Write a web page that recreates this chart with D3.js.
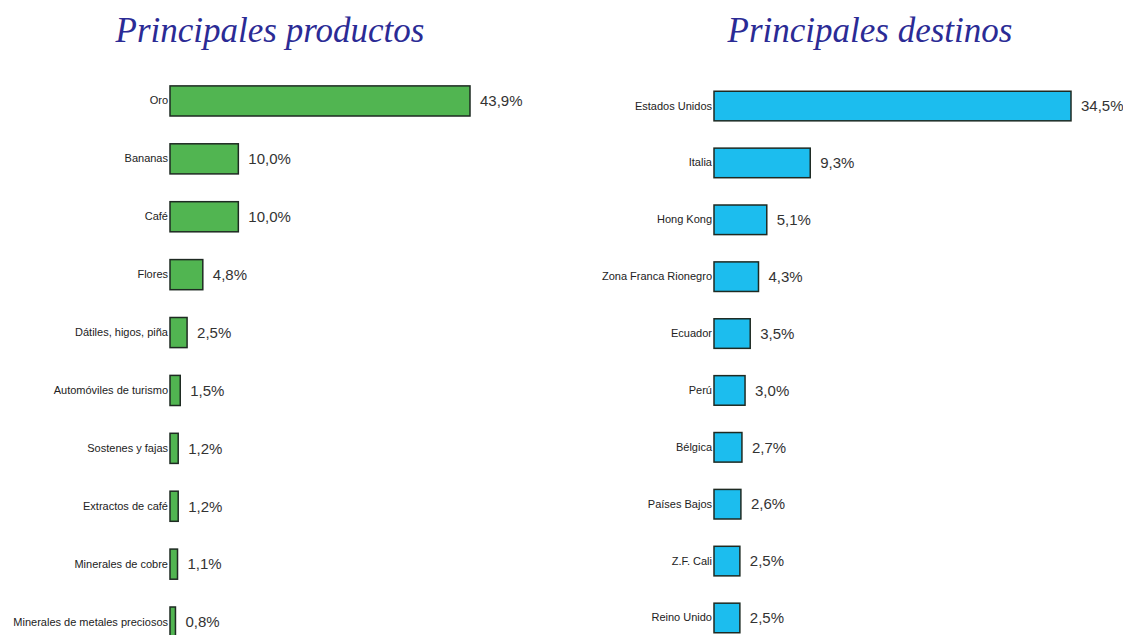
<!DOCTYPE html>
<html><head><meta charset="utf-8">
<script src="https://cdn.jsdelivr.net/npm/d3@7"></script>
<style>
body{margin:0;background:#fff;}
svg{display:block;}
.lbl{font-family:"Liberation Sans Narrow","Arial Narrow","Liberation Sans",sans-serif;}
</style></head>
<body>
<svg id="c" width="1123" height="635"></svg>
<script>
const productos = ["Oro","Bananas","Café","Flores","Dátiles, higos, piña","Automóviles de turismo","Sostenes y fajas","Extractos de café","Minerales de cobre","Minerales de metales preciosos"];
const productosValores = [43.9,10.0,10.0,4.8,2.5,1.5,1.2,1.2,1.1,0.8];
const destinos = ["Estados Unidos","Italia","Hong Kong","Zona Franca Rionegro","Ecuador","Perú","Bélgica","Países Bajos","Z.F. Cali","Reino Unido"];
const destinosValores = [34.5,9.3,5.1,4.3,3.5,3.0,2.7,2.6,2.5,2.5];
const titulos = ["Principales productos","Principales destinos"];

const svg = d3.select("#c");
const fmt = v => d3.format(".1f")(v).replace(".", ",") + "%";

function panel(cfg){
  const g = svg.append("g");
  const x = d3.scaleLinear().domain([0, cfg.max]).range([cfg.x0, cfg.x1]);
  const y = d3.scaleBand().domain(cfg.cats).range(cfg.yr).paddingInner(0.48).paddingOuter(0.24);
  g.append("text").attr("x", cfg.tx).attr("y", 42).attr("text-anchor","middle")
    .attr("font-family","'Liberation Serif','DejaVu Serif',serif").attr("font-style","italic")
    .attr("font-size", 35).attr("fill","#2b2b95").text(cfg.title);
  const ax = g.append("g").attr("transform",`translate(${cfg.x0},0)`)
    .call(d3.axisLeft(y).tickSize(0).tickPadding(2));
  ax.select(".domain").remove();
  ax.selectAll("text").attr("class","lbl").attr("font-size",11).attr("fill","#222")
    .attr("font-family","'Liberation Sans Narrow','Arial Narrow',sans-serif");
  const data = cfg.cats.map((c,i)=>({c, v: cfg.vals[i]}));
  g.selectAll("rect").data(data).join("rect")
    .attr("x", x(0)).attr("y", d=>y(d.c)).attr("width", d=>x(d.v)-x(0)).attr("height", y.bandwidth())
    .attr("fill", cfg.color).attr("stroke","#1e2a22").attr("stroke-width",1.5);
  g.selectAll("text.val").data(data).join("text").attr("class","val lbl")
    .attr("x", d=>x(d.v)+10).attr("y", d=>y(d.c)+y.bandwidth()/2).attr("dy","0.35em")
    .attr("font-size",15).attr("fill","#333")
    .attr("font-family","'Liberation Sans Narrow','Arial Narrow',sans-serif")
    .text(d=>fmt(d.v));
}
panel({cats: productos, vals: productosValores, max: 43.9, x0: 170, x1: 470, yr:[72,651], color:"#51b551", title: titulos[0], tx: 270});
panel({cats: destinos, vals: destinosValores, max: 34.5, x0: 714, x1: 1071, yr:[77.6,646.4], color:"#1cbdee", title: titulos[1], tx: 870});
</script>
</body></html>
